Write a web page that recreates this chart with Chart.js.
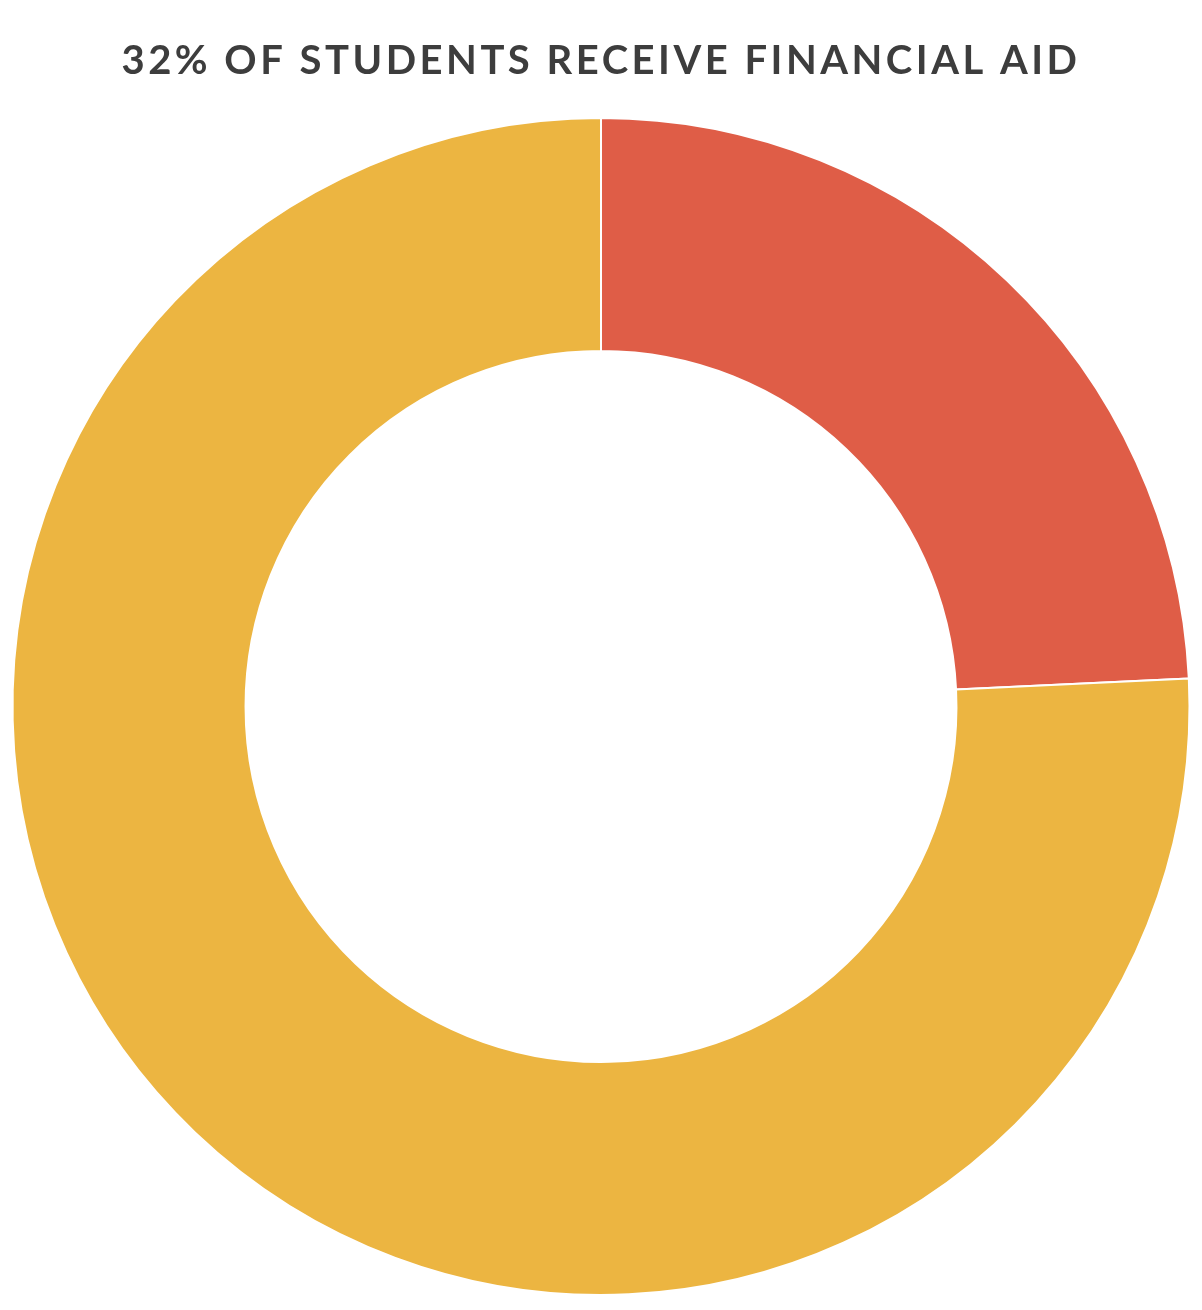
<!DOCTYPE html>
<html>
<head>
<meta charset="utf-8">
<script src="https://cdn.jsdelivr.net/npm/chart.js@4/dist/chart.umd.min.js"></script>
<style>
  html, body { margin: 0; padding: 0; background: #fff; }
  #wrap { width: 1202px; height: 1310px; }
</style>
</head>
<body>
<div id="wrap"><canvas id="c" width="1202" height="1310"></canvas></div>
<script>
const titleText = "32% OF STUDENTS RECEIVE FINANCIAL AID";
const categories = ["Receive financial aid", "Students"];
const values = [32, 100];
const colors = ["#DF5D47", "#ECB541"];

const letterSpacingPlugin = {
  id: 'letterSpacing',
  beforeDraw(chart) { chart.ctx.letterSpacing = '3.5px'; },
  afterDraw(chart) { chart.ctx.letterSpacing = '0px'; }
};

new Chart(document.getElementById('c'), {
  type: 'doughnut',
  data: {
    labels: categories,
    datasets: [{
      data: values,
      backgroundColor: colors,
      borderColor: '#ffffff',
      borderWidth: 2,
      hoverOffset: 0
    }]
  },
  options: {
    responsive: false,
    animation: false,
    cutout: '60.4%',
    layout: { padding: { left: 11, right: 11, top: 0, bottom: 14 } },
    plugins: {
      legend: { display: false },
      tooltip: { enabled: false },
      title: {
        display: true,
        text: titleText,
        color: '#3d3d3d',
        font: { family: 'Lato', size: 40, weight: 'bold', lineHeight: 1.2 },
        padding: { top: 37, bottom: 32 }
      }
    }
  },
  plugins: [letterSpacingPlugin]
});
</script>
</body>
</html>
